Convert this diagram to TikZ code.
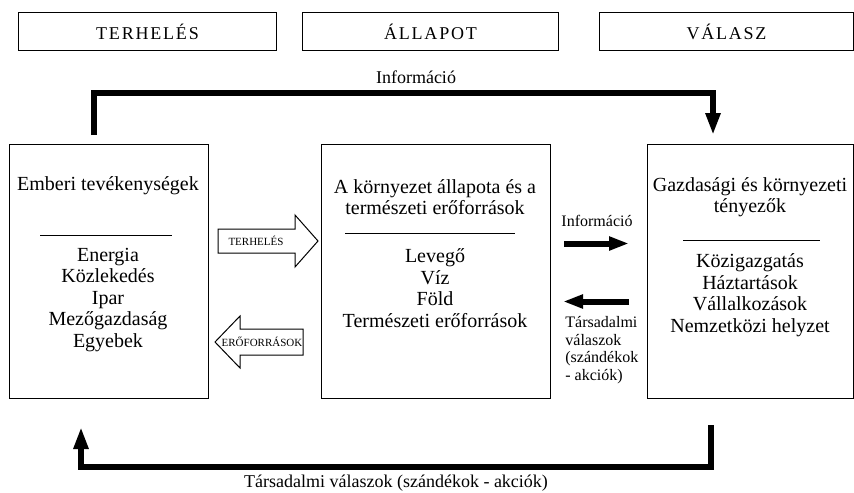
\documentclass[tikz,border=0pt]{standalone}
\usepackage{fontspec}
\setmainfont{Liberation Serif}
\newfontfamily\widefont{Liberation Serif}[LetterSpace=10]
\usetikzlibrary{arrows.meta}

\begin{document}
\begin{tikzpicture}[x=0.5pt,y=-0.5pt,
  topbox/.style={draw, line width=0.5pt, inner sep=0pt, anchor=north west, minimum height=19pt, font=\widefont\fontsize{9}{10}\selectfont},
  bigbox/.style={draw, line width=0.5pt, inner sep=0pt, anchor=north west, minimum height=127pt},
  boxtext/.style={align=center, inner sep=0pt, font=\fontsize{10}{10.75}\selectfont},
  bigflow/.style={line width=3.25pt, line join=miter, -{Triangle[width=7pt,length=11pt]}},
  smallflow/.style={line width=3pt, -{Triangle[width=6.5pt,length=10pt]}},
  blockarrow/.style={draw, line width=0.5pt, line join=miter},
  arrowtext/.style={inner sep=0pt, font=\fontsize{5.5}{6}\selectfont},
  flowtext/.style={inner sep=0pt, font=\fontsize{9}{10}\selectfont},
  sidetext/.style={inner sep=0pt, font=\fontsize{8}{8.85}\selectfont}]
\useasboundingbox (0,0) rectangle (854,492);
% fejlec
\node[topbox, minimum width=129pt] (terh) at (18,12) {TERHELÉS};
\node[topbox, minimum width=128pt] (allap) at (302,12) {ÁLLAPOT};
\node[topbox, minimum width=127pt] (valasz) at (599,12) {VÁLASZ};
% harom doboz
\node[bigbox, minimum width=99.5pt] (emb) at (9,144) {};
\node[bigbox, minimum width=114.5pt] (korny) at (321,144) {};
\node[bigbox, minimum width=103pt] (gaz) at (647,144) {};
\node[boxtext] (embcim) at (108,186) {Emberi tevékenységek};
\draw[line width=0.5pt] (40,235) -- (172,235);
\node[boxtext] (emblist) at (108,300) {Energia\\Közlekedés\\Ipar\\Mezőgazdaság\\Egyebek};
\node[boxtext] (kornycim) at (435,197) {A környezet állapota és a\\természeti erőforrások};
\draw[line width=0.5pt] (345,233) -- (515,233);
\node[boxtext] (kornylist) at (435,288) {Levegő\\Víz\\Föld\\Természeti erőforrások};
\node[boxtext] (gazcim) at (750,197) {Gazdasági és környezeti\\tényezők};
\draw[line width=0.5pt] (683,240) -- (820,240);
\node[boxtext] (gazlist) at (750,295) {Közigazgatás\\Háztartások\\Vállalkozások\\Nemzetközi helyzet};
% vastag nyilak
\draw[blockarrow] (218,229) -- (295,229) -- (295,215) -- (318,241) -- (295,267) -- (295,253) -- (218,253) -- cycle;
\node[arrowtext] (terhnyil) at (256,241) {TERHELÉS};
\draw[blockarrow] (303,329) -- (240,329) -- (240,316) -- (215,342) -- (240,368) -- (240,355) -- (303,355) -- cycle;
\node[arrowtext] (eronyil) at (262,342) {ERŐFORRÁSOK};
% kozepso nyilak
\draw[smallflow] ([shift={(13,-28)}]korny.east) -- ([shift={(-18,-28)}]gaz.west);
\node[sidetext] (infokozep) at (597,221) {Információ};
\draw[smallflow] ([shift={(-18,30)}]gaz.west) -- ([shift={(12,30)}]korny.east);
\node[sidetext, align=left, anchor=north west] (tarskozep) at (565,316) {Társadalmi\\válaszok\\(szándékok\\- akciók)};
% korbe futo nyilak
\coordinate (infoki) at ([shift={(85,-9)}]emb.north west);
\coordinate (infobe) at ([shift={(66,-9)}]gaz.north west);
\draw[bigflow] (infoki) -- ++(0,-42) -| (infobe);
\node[flowtext] (infofent) at (416,77) {Információ};
\coordinate (valki) at ([shift={(64,26)}]gaz.south west);
\coordinate (valbe) at ([shift={(72,28)}]emb.south west);
\draw[bigflow] (valki) -- ++(0,42) -| (valbe);
\node[flowtext] (tarslent) at (396,483) {Társadalmi válaszok (szándékok - akciók)};
\end{tikzpicture}
\end{document}
